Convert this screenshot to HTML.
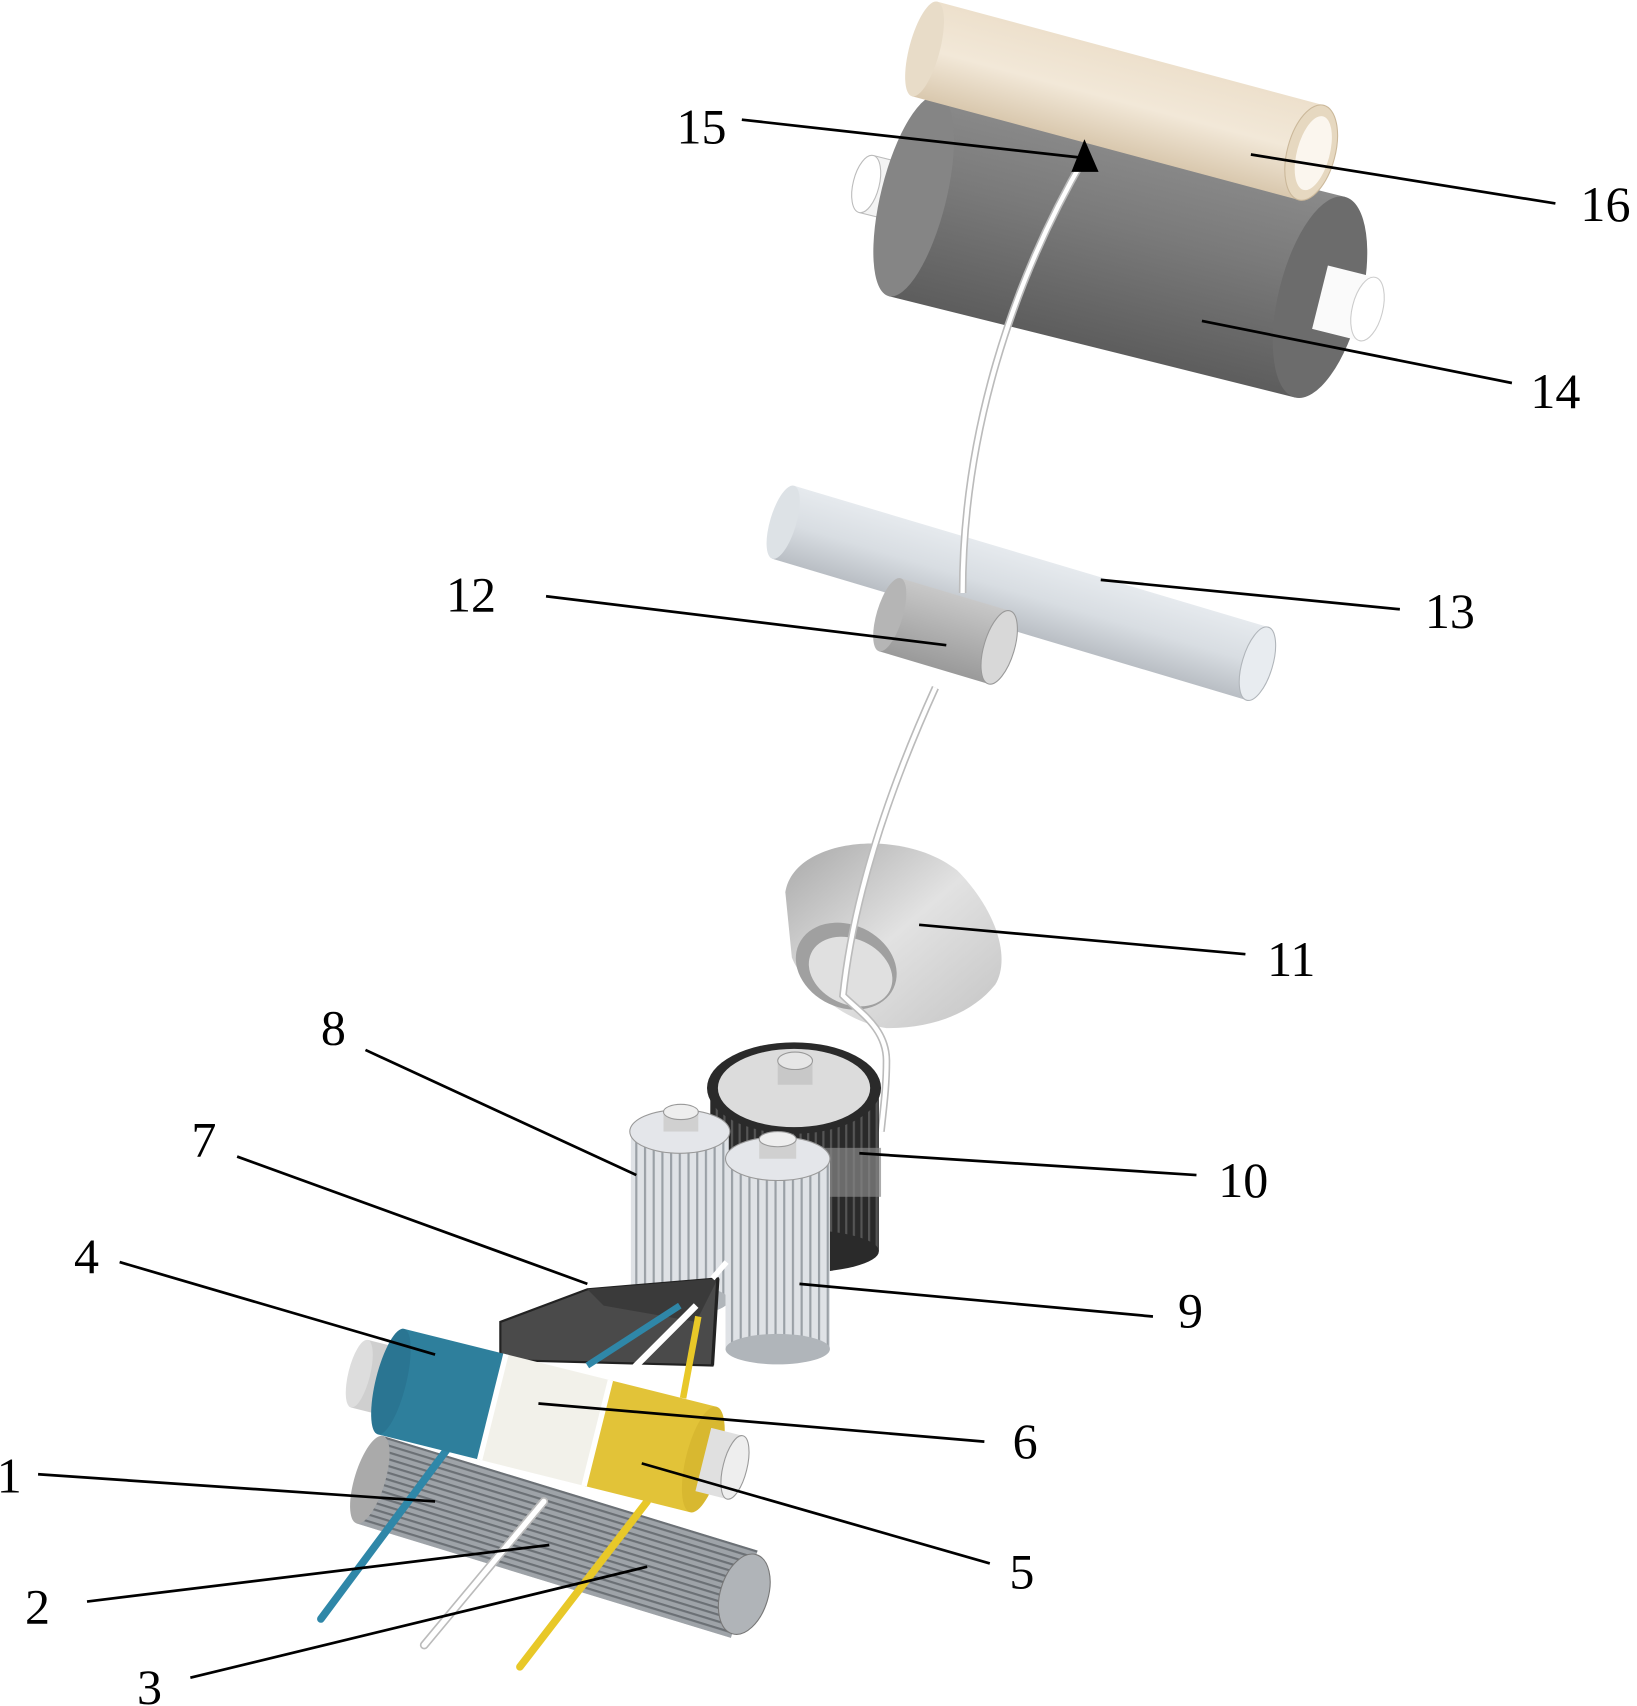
<!DOCTYPE html>
<html><head><meta charset="utf-8"><style>html,body{margin:0;padding:0;background:#fff}svg{display:block}</style></head>
<body>
<svg width="1637" height="1706" viewBox="0 0 1505 1568" preserveAspectRatio="none" xmlns="http://www.w3.org/2000/svg">
<defs>
<linearGradient id="beige" x1="0" y1="0" x2="0" y2="1"><stop offset="0" stop-color="#ede0cc"/><stop offset="0.5" stop-color="#f2e8d8"/><stop offset="1" stop-color="#d9c8ae"/></linearGradient>
<linearGradient id="dgrey" x1="0" y1="0" x2="0" y2="1"><stop offset="0" stop-color="#8a8a8a"/><stop offset="0.4" stop-color="#7a7a7a"/><stop offset="1" stop-color="#5d5d5d"/></linearGradient>
<linearGradient id="lgrey" x1="0" y1="0" x2="0" y2="1"><stop offset="0" stop-color="#e6eaee"/><stop offset="0.5" stop-color="#d8dde2"/><stop offset="1" stop-color="#b9bec4"/></linearGradient>
<linearGradient id="mgrey" x1="0" y1="0" x2="0" y2="1"><stop offset="0" stop-color="#c8c8c8"/><stop offset="1" stop-color="#9a9a9a"/></linearGradient>
<pattern id="ribs" width="8" height="10" patternUnits="userSpaceOnUse"><rect width="8" height="10" fill="#dfe2e6"/><rect width="2" height="10" fill="#9aa0a6"/></pattern>
<pattern id="hribs" width="10" height="6" patternUnits="userSpaceOnUse"><rect width="10" height="6" fill="#9ea3a8"/><rect width="10" height="2" fill="#6b7075"/></pattern>
<pattern id="blk" width="7" height="7" patternUnits="userSpaceOnUse"><rect width="7" height="7" fill="#2a2a2a"/><rect width="2" height="7" fill="#555"/></pattern>
<linearGradient id="cone" x1="0" y1="0" x2="1" y2="1"><stop offset="0" stop-color="#a8a8a8"/><stop offset="0.5" stop-color="#e2e2e2"/><stop offset="1" stop-color="#c4c4c4"/></linearGradient>
</defs>

<g transform="translate(840,180) rotate(14)">
  <rect x="-45" y="-27" width="40" height="54" fill="#f4f4f4" stroke="#bbb"/>
  <ellipse cx="-45" cy="0" rx="12" ry="27" fill="#fff" stroke="#bbb"/>
  <rect x="0" y="-95" width="385" height="190" fill="url(#dgrey)"/>
  <ellipse cx="0" cy="0" rx="30" ry="95" fill="#858585"/>
  <ellipse cx="385" cy="0" rx="38" ry="95" fill="#6c6c6c"/>
  <rect x="385" y="-30" width="45" height="60" fill="#fafafa"/>
  <ellipse cx="430" cy="0" rx="14" ry="30" fill="#fff" stroke="#ccc"/>
</g>
<g transform="translate(850,45) rotate(15)">
  <rect x="0" y="-45" width="368" height="90" fill="url(#beige)"/>
  <ellipse cx="0" cy="0" rx="14" ry="45" fill="#e8dcc8"/>
  <ellipse cx="368" cy="0" rx="22" ry="45" fill="#e6d8c0" stroke="#cbb89a"/>
  <ellipse cx="370" cy="0" rx="15" ry="35" fill="#fbf6ee"/>
</g>
<g transform="translate(720,480) rotate(16.6)">
  <rect x="0" y="-35" width="455" height="70" fill="url(#lgrey)"/>
  <ellipse cx="0" cy="0" rx="12" ry="35" fill="#dde2e6"/>
  <ellipse cx="455" cy="0" rx="14" ry="35" fill="#e8ecf0" stroke="#b0b5ba"/>
</g>
<path d="M997,145 C930,260 885,400 885,545" stroke="#bbb" stroke-width="7" fill="none"/>
<path d="M997,145 C930,260 885,400 885,545" stroke="#fff" stroke-width="4" fill="none"/>
<g transform="translate(818,565) rotate(16.6)">
  <rect x="0" y="-35" width="105" height="70" fill="url(#mgrey)"/>
  <ellipse cx="0" cy="0" rx="12" ry="35" fill="#b5b5b5"/>
  <ellipse cx="105" cy="0" rx="14" ry="35" fill="#d8d8d8" stroke="#999"/>
</g>
<path d="M722,820 C730,770 830,760 880,800 C915,835 930,880 915,905 C895,930 860,945 815,945 C780,940 740,910 728,880 Z" fill="url(#cone)"/>
<ellipse cx="778" cy="888" rx="48" ry="38" transform="rotate(25 778 888)" fill="#a0a0a0"/>
<ellipse cx="782" cy="893" rx="40" ry="30" transform="rotate(25 782 893)" fill="#e0e0e0"/>
<path d="M860,632 C820,720 785,820 775,915 C790,930 815,945 815,975 C815,1000 812,1020 810,1040" stroke="#bbb" stroke-width="7" fill="none"/>
<path d="M860,632 C820,720 785,820 775,915 C790,930 815,945 815,975 C815,1000 812,1020 810,1040" stroke="#fff" stroke-width="4" fill="none"/>
<rect x="653" y="1000" width="155" height="150" fill="url(#blk)"/>
<ellipse cx="730" cy="1150" rx="78" ry="20" fill="#2a2a2a"/>
<ellipse cx="730" cy="1000" rx="80" ry="42" fill="#2a2a2a"/>
<ellipse cx="730" cy="1000" rx="70" ry="36" fill="#dcdcdc"/>
<rect x="715" y="975" width="32" height="22" fill="#c8c8c8"/>
<ellipse cx="731" cy="975" rx="16" ry="8" fill="#e6e6e6" stroke="#999"/>
<rect x="755" y="1055" width="55" height="45" fill="#888" opacity="0.7"/>
<rect x="580" y="1040" width="90" height="155" fill="url(#ribs)"/>
<ellipse cx="625" cy="1195" rx="45" ry="14" fill="#b0b5ba"/>
<ellipse cx="625" cy="1040" rx="46" ry="20" fill="#e4e6ea" stroke="#999"/>
<rect x="610" y="1022" width="32" height="18" fill="#d0d0d0"/>
<ellipse cx="626" cy="1022" rx="16" ry="7" fill="#eee" stroke="#999"/>
<rect x="667" y="1065" width="96" height="175" fill="url(#ribs)"/>
<ellipse cx="715" cy="1240" rx="48" ry="14" fill="#b0b5ba"/>
<ellipse cx="715" cy="1065" rx="48" ry="20" fill="#e4e6ea" stroke="#999"/>
<rect x="698" y="1047" width="34" height="18" fill="#d0d0d0"/>
<ellipse cx="715" cy="1047" rx="17" ry="7" fill="#eee" stroke="#999"/>
<polygon points="540,1185 660,1175 655,1255 460,1250 460,1215" fill="#4a4a4a" stroke="#222" stroke-width="2"/>
<polygon points="540,1185 660,1175 640,1215 555,1200" fill="#3a3a3a"/>
<line x1="660" y1="1175" x2="655" y2="1255" stroke="#222" stroke-width="3"/>
<line x1="655" y1="1175" x2="668" y2="1160" stroke="#fff" stroke-width="5"/>
<g transform="translate(340,1360) rotate(17)">
  <rect x="0" y="-42" width="360" height="84" fill="url(#hribs)"/>
  <ellipse cx="0" cy="0" rx="14" ry="42" fill="#aaa"/>
  <ellipse cx="360" cy="0" rx="22" ry="38" fill="#b0b4b8" stroke="#777"/>
</g>
<line x1="295" y1="1488" x2="420" y2="1320" stroke="#2f87a8" stroke-width="7" stroke-linecap="round"/>
<line x1="390" y1="1512" x2="500" y2="1380" stroke="#bbb" stroke-width="8" stroke-linecap="round"/>
<line x1="390" y1="1512" x2="500" y2="1380" stroke="#fff" stroke-width="5" stroke-linecap="round"/>
<line x1="478" y1="1532" x2="595" y2="1380" stroke="#e8c828" stroke-width="7" stroke-linecap="round"/>
<line x1="540" y1="1255" x2="625" y2="1200" stroke="#2f87a8" stroke-width="6"/>
<line x1="560" y1="1280" x2="640" y2="1200" stroke="#fff" stroke-width="6"/>
<line x1="628" y1="1285" x2="642" y2="1210" stroke="#e8c828" stroke-width="6"/>
<g transform="translate(340,1265) rotate(14)">
  <rect x="-10" y="-32" width="30" height="64" fill="#cfcfcf"/>
  <ellipse cx="-10" cy="0" rx="10" ry="32" fill="#ddd"/>
  <rect x="20" y="-50" width="98" height="100" fill="#2e7f9c"/>
  <ellipse cx="20" cy="0" rx="14" ry="50" fill="#2a7592"/>
  <rect x="118" y="-50" width="98" height="100" fill="#f2f1ea"/>
  <rect x="114" y="-50" width="5" height="100" fill="#fff"/>
  <rect x="216" y="-50" width="100" height="100" fill="#e2c338"/>
  <rect x="213" y="-50" width="5" height="100" fill="#fff"/>
  <ellipse cx="316" cy="0" rx="16" ry="50" fill="#d8b830"/>
  <rect x="316" y="-30" width="30" height="60" fill="#e0e0e0"/>
  <ellipse cx="346" cy="0" rx="11" ry="30" fill="#eee" stroke="#999"/>
</g>
<polygon points="997,128 985,158 1010,158" fill="#000"/>
<g stroke="#000" stroke-width="2.5">
<line x1="682" y1="110" x2="995" y2="145"/>
<line x1="1150" y1="142" x2="1430" y2="187"/>
<line x1="1105" y1="295" x2="1390" y2="352"/>
<line x1="1012" y1="533" x2="1287" y2="560"/>
<line x1="502" y1="548" x2="870" y2="593"/>
<line x1="845" y1="850" x2="1145" y2="877"/>
<line x1="790" y1="1060" x2="1100" y2="1080"/>
<line x1="735" y1="1180" x2="1060" y2="1210"/>
<line x1="336" y1="965" x2="585" y2="1080"/>
<line x1="218" y1="1063" x2="540" y2="1180"/>
<line x1="110" y1="1160" x2="400" y2="1245"/>
<line x1="495" y1="1290" x2="905" y2="1325"/>
<line x1="590" y1="1345" x2="910" y2="1437"/>
<line x1="35" y1="1355" x2="400" y2="1380"/>
<line x1="80" y1="1472" x2="505" y2="1420"/>
<line x1="175" y1="1542" x2="595" y2="1440"/>
</g>
<g font-family="Liberation Serif, serif" font-size="46" fill="#000">
<text x="622" y="132">15</text>
<text x="1453" y="203">16</text>
<text x="1407" y="375">14</text>
<text x="1310" y="577">13</text>
<text x="410" y="562">12</text>
<text x="1165" y="897">11</text>
<text x="1120" y="1100">10</text>
<text x="1083" y="1220">9</text>
<text x="295" y="960">8</text>
<text x="176" y="1063">7</text>
<text x="68" y="1170">4</text>
<text x="931" y="1340">6</text>
<text x="928" y="1460">5</text>
<text x="-3" y="1372">1</text>
<text x="23" y="1492">2</text>
<text x="126" y="1566">3</text>
</g>
</svg>
</body></html>
